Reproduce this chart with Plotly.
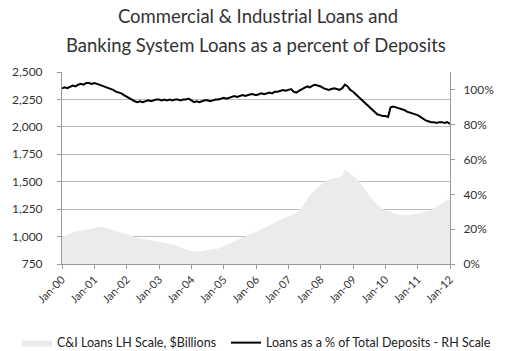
import pandas as pd
import plotly.graph_objects as go

# Monthly observations, Jan-2000 .. Jan-2012
dates = pd.date_range("2000-01-01", "2012-01-01", freq="MS")

ci_loans = [
    996, 1005, 1015, 1030, 1042, 1048, 1050, 1052, 1055, 1060, 1065, 1072,
    1082, 1088, 1090, 1088, 1082, 1075, 1065, 1058, 1050, 1042, 1035, 1025,
    1012, 1005, 1000, 995, 990, 985, 978, 972, 968, 962, 958, 955,
    950, 948, 945, 940, 935, 928, 920, 912, 905, 895, 885, 875,
    868, 865, 862, 865, 868, 872, 875, 878, 880, 885, 892, 900,
    912, 925, 938, 950, 962, 972, 985, 995, 1005, 1015, 1025, 1033,
    1040, 1055, 1068, 1080, 1092, 1105, 1118, 1130, 1145, 1155, 1165, 1175,
    1185, 1195, 1205, 1220, 1240, 1265, 1300, 1340, 1375, 1405, 1430, 1450,
    1470, 1490, 1505, 1515, 1525, 1530, 1535, 1540, 1560, 1607, 1590, 1570,
    1550, 1530, 1510, 1480, 1450, 1410, 1375, 1345, 1315, 1290, 1270, 1250,
    1242, 1235, 1225, 1215, 1205, 1200, 1197, 1195, 1195, 1197, 1200, 1205,
    1210, 1215, 1220, 1224, 1230, 1240, 1255, 1270, 1285, 1300, 1315, 1330,
    1350,
]

loan_deposit_ratio = [
    1.010, 1.015, 1.010, 1.020, 1.025, 1.020, 1.030, 1.035, 1.030, 1.040, 1.040, 1.035,
    1.040, 1.035, 1.030, 1.025, 1.020, 1.010, 1.005, 1.000, 0.990, 0.985, 0.980, 0.970,
    0.960, 0.955, 0.945, 0.935, 0.930, 0.935, 0.930, 0.935, 0.940, 0.935, 0.940, 0.945,
    0.945, 0.940, 0.945, 0.940, 0.945, 0.940, 0.945, 0.945, 0.940, 0.945, 0.945, 0.950,
    0.940, 0.930, 0.935, 0.930, 0.935, 0.940, 0.940, 0.935, 0.940, 0.945, 0.945, 0.950,
    0.955, 0.950, 0.955, 0.960, 0.965, 0.960, 0.965, 0.970, 0.965, 0.970, 0.975, 0.975,
    0.970, 0.975, 0.980, 0.975, 0.980, 0.985, 0.980, 0.990, 0.990, 0.995, 1.000, 0.995,
    1.000, 1.005, 0.990, 0.985, 0.995, 1.005, 1.010, 1.020, 1.015, 1.025, 1.030, 1.025,
    1.020, 1.010, 1.005, 1.000, 1.005, 1.010, 1.005, 1.000, 1.010, 1.030, 1.020, 1.000,
    0.990, 0.975, 0.960, 0.945, 0.930, 0.915, 0.900, 0.885, 0.870, 0.860, 0.855, 0.850,
    0.850, 0.845, 0.900, 0.905, 0.900, 0.895, 0.890, 0.885, 0.875, 0.870, 0.865, 0.860,
    0.855, 0.845, 0.835, 0.825, 0.820, 0.815, 0.815, 0.810, 0.815, 0.815, 0.810, 0.815,
    0.805,
]

left_ticks = [750, 1000, 1250, 1500, 1750, 2000, 2250, 2500]
right_ticks = [0, 0.2, 0.4, 0.6, 0.8, 1.0]
title_lines = ["Commercial & Industrial Loans and",
               "Banking System Loans as a percent of Deposits"]

FONT = "Lato, Carlito, Calibri, sans-serif"

fig = go.Figure()
fig.add_trace(go.Scatter(
    x=dates, y=ci_loans, name="C&I Loans LH Scale, $Billions",
    mode="lines", line=dict(width=0, color="#ebebeb"),
    fill="tozeroy", fillcolor="#ebebeb", yaxis="y", legend="legend",
))
fig.add_trace(go.Scatter(
    x=dates, y=loan_deposit_ratio,
    name="Loans as a % of Total Deposits - RH Scale",
    mode="lines", line=dict(width=2, color="#000000"), yaxis="y2",
    legend="legend2",
))

# second title line as an annotation (keeps the wide line spacing)
fig.add_annotation(text=title_lines[1], xref="paper", yref="paper",
                   x=0.5, y=1.141, xanchor="center", yanchor="middle",
                   showarrow=False,
                   font=dict(family=FONT, size=18.5, color="#333333"))

legend_common = dict(orientation="h", xref="container", yref="container",
                     y=0.0228, yanchor="middle", xanchor="left",
                     bgcolor="rgba(0,0,0,0)", itemwidth=30,
                     font=dict(family=FONT, size=12.5, color="#222222"))

fig.update_layout(
    width=506, height=351,
    margin=dict(l=60, r=45, t=72, b=87),
    paper_bgcolor="white", plot_bgcolor="white",
    font=dict(family=FONT, size=11, color="#333333"),
    title=dict(text=title_lines[0], xref="container", yref="container",
               x=0.51, xanchor="center", y=1 - 17 / 351, yanchor="middle",
               font=dict(family=FONT, size=18.5, color="#333333")),
    showlegend=True,
    legend=dict(x=17 / 506, **legend_common),
    legend2=dict(x=226 / 506, **legend_common),
    xaxis=dict(
        type="date", range=["2000-01-01", "2012-01-01"],
        tickformat="%b-%y", dtick="M12", tick0="2000-01-01",
        tickangle=-45, ticks="outside", ticklen=4, tickcolor="#999999",
        showline=True, linecolor="#999999", linewidth=1,
        showgrid=False, tickfont=dict(size=11, color="#333333"),
    ),
    yaxis=dict(
        range=[750, 2500], tickvals=left_ticks, tickformat=",d",
        ticks="outside", ticklen=4, tickcolor="#999999",
        ticklabelstandoff=12,
        showline=True, linecolor="#999999", linewidth=1,
        showgrid=True, gridcolor="#bdbdbd", gridwidth=1,
        zeroline=False, tickfont=dict(size=12, color="#333333"),
    ),
    yaxis2=dict(
        range=[0, 1.103], tickvals=right_ticks, tickformat=".0%",
        overlaying="y", side="right",
        ticks="outside", ticklen=4, tickcolor="#999999",
        ticklabelstandoff=6,
        showline=True, linecolor="#999999", linewidth=1,
        showgrid=False, zeroline=False,
        tickfont=dict(size=12, color="#333333"),
    ),
)

fig.write_html("out.html",
               config={"displayModeBar": False},
               post_script="document.body.style.margin='0';")
